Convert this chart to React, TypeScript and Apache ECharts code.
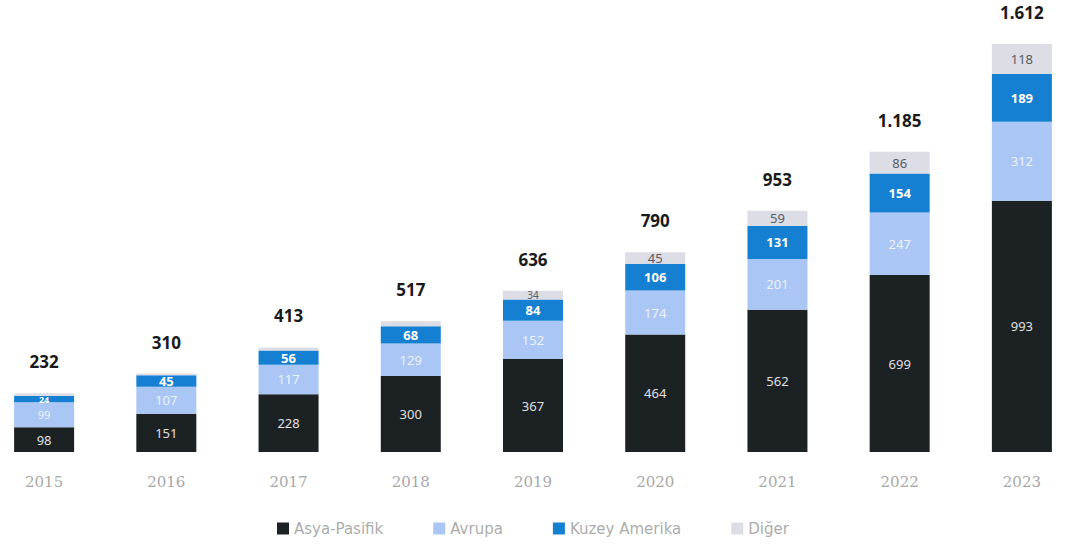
import React, { useEffect, useRef } from "react";
import * as echarts from "echarts";

const years = ["2015", "2016", "2017", "2018", "2019", "2020", "2021", "2022", "2023"];
const asyaPasifik = [98, 151, 228, 300, 367, 464, 562, 699, 993];
const avrupa = [99, 107, 117, 129, 152, 174, 201, 247, 312];
const kuzeyAmerika = [24, 45, 56, 68, 84, 106, 131, 154, 189];
const diger = [11, 7, 12, 20, 34, 45, 59, 86, 118];
const totals = [232, 310, 413, 517, 636, 790, 953, 1185, 1612];

const fmt = (v: number) => v.toString().replace(/\B(?=(\d{3})+(?!\d))/g, ".");

export default function App() {
  const ref = useRef<HTMLDivElement>(null);
  useEffect(() => {
    if (!ref.current) return;
    const chart = echarts.init(ref.current, null, { renderer: "svg" });
    const font = "'Noto Sans', sans-serif";
    const inside = (color: string, bold = false, size = 13) => ({
      show: true,
      position: "inside" as const,
      color,
      fontFamily: font,
      fontSize: size,
      fontWeight: bold ? ("bold" as const) : ("normal" as const),
    });
    chart.setOption({
      animation: false,
      grid: { left: 0, right: 0, top: 0, bottom: 98 },
      legend: {
        data: ["Asya-Pasifik", "Avrupa", "Kuzey Amerika", "Diğer"],
        bottom: 9,
        left: 289,
        itemWidth: 12,
        itemHeight: 12,
        itemGap: 50,
        icon: "rect",
        textStyle: { color: "#adadad", fontSize: 15, fontFamily: "'DejaVu Sans', sans-serif" },
      },
      xAxis: {
        type: "category",
        data: years,
        axisLine: { show: false },
        axisTick: { show: false },
        axisLabel: { color: "#a8a8a8", fontSize: 15, margin: 22, fontFamily: "'DejaVu Serif', serif" },
      },
      yAxis: { type: "value", min: 0, max: 1786, show: false, splitLine: { show: false } },
      series: [
        {
          name: "Asya-Pasifik",
          type: "bar",
          stack: "t",
          barWidth: 60,
          data: asyaPasifik,
          itemStyle: { color: "#1c2124" },
          label: inside("#e0e0e0", false, 13),
        },
        {
          name: "Avrupa",
          type: "bar",
          stack: "t",
          data: avrupa.map((v, i) => (i === 0 ? { value: v, label: { fontSize: 11 } } : v)),
          itemStyle: { color: "#a9c6f4" },
          label: inside("#eef3fb", false, 13),
        },
        {
          name: "Kuzey Amerika",
          type: "bar",
          stack: "t",
          data: kuzeyAmerika.map((v, i) => (i === 0 ? { value: v, label: { fontSize: 9 } } : v)),
          itemStyle: { color: "#1580d2" },
          label: inside("#ffffff", true, 13),
        },
        {
          name: "Diğer",
          type: "bar",
          stack: "t",
          data: diger.map((v, i) => ({ value: v, label: { show: i >= 4, fontSize: i === 4 ? 10 : 13 } })),
          itemStyle: { color: "#dcdde5" },
          label: inside("#555c66", false, 13),
        },
        {
          name: "Toplam",
          type: "bar",
          stack: "t",
          data: totals.map(() => 0),
          itemStyle: { color: "transparent" },
          label: {
            show: true,
            position: "top",
            distance: 23,
            formatter: (p: any) => fmt(totals[p.dataIndex]),
            color: "#1a1a1a",
            fontWeight: "bold",
            fontSize: 17,
            fontFamily: font,
          },
        },
      ],
    });
    return () => chart.dispose();
  }, []);
  return <div ref={ref} style={{ width: 1100, height: 550, position: "absolute", left: -17, top: 0 }} />;
}
